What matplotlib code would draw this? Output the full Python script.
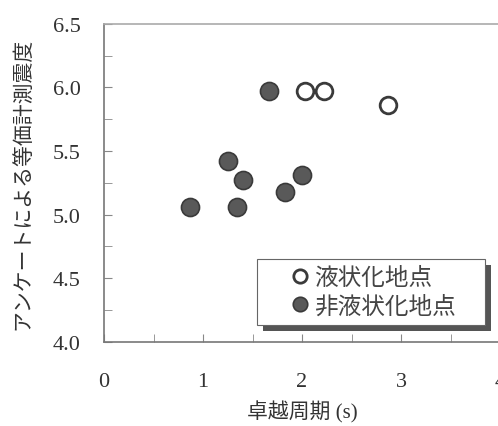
import numpy as np
import matplotlib
matplotlib.use('Agg')
import matplotlib.pyplot as plt
from matplotlib.patches import Rectangle
from matplotlib.transforms import IdentityTransform

plt.rcParams['font.family'] = ['Noto Sans CJK JP', 'DejaVu Sans']

# 卓越周期 (s) と アンケート震度
liq_T = [2.03, 2.22, 2.87]
liq_I = [5.97, 5.97, 5.86]
non_T = [0.87, 1.25, 1.34, 1.40, 1.67, 1.83, 2.00]
non_I = [5.06, 5.42, 5.06, 5.27, 5.97, 5.18, 5.31]

xticks = [0, 1, 2, 3, 4]
yticks = [4.0, 4.5, 5.0, 5.5, 6.0, 6.5]

fig = plt.figure(figsize=(4.98, 4.27), dpi=100)
ax = fig.add_axes([0.209, 0.197, 0.795, 0.745])

ax.plot(non_T, non_I, 'o', ms=13, mfc='#595959', mec='#3a3a3a', mew=1.2,
        label='非液状化地点')
ax.plot(liq_T, liq_I, 'o', ms=12, mfc='white', mec='#3a3a3a', mew=2.0,
        label='液状化地点')

ax.set_xlim(0, 4)
ax.set_ylim(4.0, 6.5)
ax.set_xticks(xticks)
ax.set_yticks(yticks)
ax.set_xticks(np.arange(0, 4.01, 0.5), minor=True)
ax.set_yticks(np.arange(4.0, 6.51, 0.25), minor=True)

serif = 'Liberation Serif'
ax.set_xticklabels([str(t) for t in xticks], family=serif, fontsize=16, color='#333333')
ax.set_yticklabels(['%.1f' % t for t in yticks], family=serif, fontsize=16, color='#333333')
ax.tick_params(which='both', direction='in', length=6, color='#888888',
               top=False, right=False)
ax.tick_params(axis='x', pad=22)
ax.tick_params(axis='y', pad=17)

for s in ['left', 'bottom', 'top']:
    ax.spines[s].set_color('#777777')
    ax.spines[s].set_linewidth(1.2)
ax.spines['top'].set_color('#aaaaaa')
ax.spines['right'].set_visible(False)

ax.set_xlabel('卓越周期 (s)', fontsize=15, color='#333333', labelpad=6,
              family=[serif, 'Noto Sans CJK JP'])
ax.set_ylabel('アンケートによる等価計測震度', fontsize=15, color='#333333', labelpad=14)

handles, labels = ax.get_legend_handles_labels()
leg = ax.legend(handles[::-1], labels[::-1], loc='lower left', mode='expand',
                bbox_to_anchor=(0.516, 0.2365, 0.458, 0.1), bbox_transform=fig.transFigure,
                borderaxespad=0, fontsize=17, markerscale=0.8, handletextpad=-0.9,
                handlelength=3.0, labelspacing=0.22, borderpad=0.32,
                fancybox=False, framealpha=1, edgecolor='#666666')
for t in leg.get_texts():
    t.set_color('#444444')
leg.get_frame().set_linewidth(0.8)
leg.set_zorder(10)

# drop shadow under the legend box
fig.canvas.draw()
bb = leg.get_window_extent()
sh = Rectangle((bb.x0 + 6, bb.y0 - 6), bb.width, bb.height,
               transform=IdentityTransform(), facecolor='#555555',
               edgecolor='none', clip_on=False, zorder=9)
ax.add_artist(sh)

fig.savefig('out.png', dpi=100)
